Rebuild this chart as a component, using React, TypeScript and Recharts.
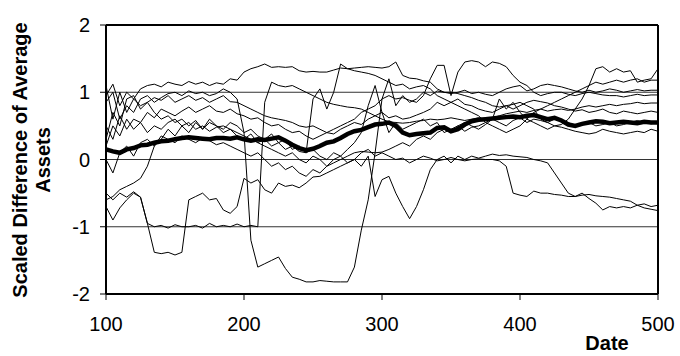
import { CartesianGrid, Label, Line, LineChart, ReferenceLine, XAxis, YAxis } from "recharts";

const FONT = "'Liberation Sans', Arial, sans-serif";

const dates = [
  100, 105, 110, 115, 120, 125, 130, 135, 140, 145,
  150, 155, 160, 165, 170, 175, 180, 185, 190, 195,
  200, 205, 210, 215, 220, 225, 230, 235, 240, 245,
  250, 255, 260, 265, 270, 275, 280, 285, 290, 295,
  300, 305, 310, 315, 320, 325, 330, 335, 340, 345,
  350, 355, 360, 365, 370, 375, 380, 385, 390, 395,
  400, 405, 410, 415, 420, 425, 430, 435, 440, 445,
  450, 455, 460, 465, 470, 475, 480, 485, 490, 495,
  500,
];

const xTicks = [100, 200, 300, 400, 500];
const yTicks = [-2, -1, 0, 1, 2];

// individual runs (thin lines)
const run1 = [
  0.95, 1.12, 0.8, 1.0, 0.9, 1.05, 1.1, 1.12, 1.08, 1.15,
  1.12, 1.1, 1.16, 1.12, 1.15, 1.1, 1.14, 1.12, 1.2, 1.18,
  1.3, 1.35, 1.38, 1.42, 1.37, 1.38, 1.37, 1.38, 1.32, 1.3,
  1.31, 1.3, 1.3, 1.33, 1.36, 1.35, 1.36, 1.37, 1.38, 1.37,
  1.36, 1.38, 1.45, 1.25, 1.21, 1.2, 1.17, 1.15, 1.05, 1.0,
  1.0, 0.98, 0.95, 0.92, 0.88, 0.85, 0.8, 0.78, 0.8, 0.75,
  0.8, 0.85, 0.88, 0.86, 0.84, 0.8, 0.78, 0.75, 0.72, 0.74,
  0.7, 0.72, 0.75, 0.7, 0.68, 0.72, 0.7, 0.68, 0.7, 0.72,
  0.7,
];
const run2 = [
  1.1, 0.6, 1.0, 0.7, 0.9, 0.8, 0.85, 0.92, 0.88, 0.95,
  0.85, 0.9, 0.95, 0.88, 0.92, 0.85, 0.9, 0.95, 0.86, 0.85,
  0.8, 0.75, 0.7, 0.65, 0.62, 0.6, 0.58, 0.55, 0.5, 0.48,
  0.5, 0.45, 0.4, 0.45, 0.5, 0.55, 0.6, 0.7, 0.75, 0.8,
  0.9, 0.95, 0.9, 0.92, 0.88, 0.85, 0.95, 1.2, 1.4, 1.4,
  0.95, 1.3, 1.45, 1.47, 1.45, 1.38, 1.45, 1.43, 1.38, 1.25,
  1.15, 1.1, 1.0, 0.95, 0.98, 1.0, 1.0, 0.97, 0.95, 0.98,
  1.0, 0.98, 0.96, 0.95, 0.95, 0.93, 0.95, 0.97, 0.95, 0.96,
  0.96,
];
const run3 = [
  0.5, 0.3, 0.65, 0.45, 0.6, 0.55, 0.7, 0.62, 0.75, 0.7,
  0.65, 0.72, 0.78, 0.7, 0.75, 0.8, 0.72, 0.7, 0.75, 0.68,
  0.65, 0.6, 0.62, 0.55, 0.5, 0.52, 0.45, 0.4, 0.42, 0.35,
  0.3, 0.35, 0.4, 0.38, 0.45, 0.5, 0.55, 0.52, 0.6, 0.65,
  0.7, 0.62, 0.65, 0.6, 0.62, 0.66, 0.7, 0.75, 0.85, 0.8,
  0.85, 0.9, 0.82, 0.8, 0.75, 0.72, 0.7, 0.75, 0.8, 0.82,
  0.85, 0.8, 0.75, 0.6, 0.55, 0.5, 0.52, 0.6, 0.75, 0.9,
  1.1, 1.35, 1.38, 1.3, 1.35, 1.3, 1.32, 1.15, 1.18, 1.2,
  1.35,
];
const run4 = [
  0.85, 1.0, 0.6, 0.8, 0.7, 0.9, 0.95, 0.85, 0.92, 0.98,
  1.0, 0.95, 1.02, 0.98, 1.0, 0.95, 0.98, 1.05, 1.0, 0.9,
  0.4, -1.2, -1.6, -1.55, -1.5, -1.45, -1.62, -1.75, -1.78, -1.82,
  -1.82, -1.8, -1.81, -1.82, -1.82, -1.82, -1.6, -1.05, -0.6, 0.1,
  0.9, 1.2, 0.8, 0.95, 0.85, 0.9, 1.0, 0.95, 1.02, 1.0,
  0.98, 1.0, 1.03, 0.98, 1.0, 0.97, 0.95, 1.0, 1.05, 1.08,
  1.1, 1.02, 1.05, 1.1, 1.12, 1.1, 1.08, 1.05, 1.02, 1.0,
  1.03, 1.0, 1.02, 1.05, 1.03, 1.0, 1.02, 1.04, 1.02, 1.03,
  1.03,
];
const run5 = [
  0.3, 0.7, 0.5, 0.9, 0.95, 0.75, 0.85, 0.7, 0.6, 0.65,
  0.55, 0.6, 0.5, 0.58, 0.45, 0.55, 0.5, 0.4, 0.45, 0.35,
  0.3, 0.38, 0.25, 0.3, 0.2, 0.25, 0.15, 0.2, 0.12, 0.1,
  0.9, 1.05, 0.75, 1.0, 1.42, 1.35, 1.32, 1.3, 1.28, 1.25,
  1.2, 1.15, 1.1, 1.12, 1.05, 1.08, 1.1, 1.05, 0.95, 0.9,
  0.85, 0.8, 0.75, 0.7, 0.65, 0.55, 0.5, 0.45, 0.4, 0.45,
  0.5, 0.6, 0.7, 0.75, 0.8, 0.85, 0.9, 0.95, 1.0, 1.05,
  1.1, 1.15, 1.12, 1.15, 1.18, 1.15, 1.18, 1.2, 1.15, 1.18,
  1.18,
];
const run6 = [
  0.2, 0.5, 0.35, 0.6, 0.45, 0.55, 0.4, 0.5, 0.45, 0.55,
  0.6, 0.5, 0.55, 0.45, 0.5, 0.42, 0.48, 0.5, 0.45, 0.4,
  0.35, 0.3, 0.25, 0.2, 0.15, 0.1, 0.05, 0.1, 0.0, -0.05,
  0.05, 0.0, -0.1, 0.0, 0.05, 0.15, 0.25, 0.4, 0.8, 1.1,
  0.7, 0.4, 0.55, 0.45, 0.5, 0.55, 0.6, 0.5, 0.55, 0.4,
  0.45, 0.5, 0.42, 0.48, 0.5, 0.55, 0.6, 0.9, 0.75, 0.85,
  0.7, 0.6, 0.55, 0.5, 0.45, 0.5, 0.48, 0.45, 0.42, 0.4,
  0.38, 0.4, 0.45, 0.42, 0.4, 0.38, 0.4, 0.42, 0.4, 0.45,
  0.42,
];
const run7 = [
  0.0, -0.2, 0.1, 0.2, 0.05, 0.25, 0.3, 0.2, 0.35, 0.3,
  0.25, 0.35, 0.3, 0.25, 0.32, 0.28, 0.22, 0.25, 0.2, 0.15,
  0.1, 0.05, 0.1, 0.0, -0.1, -0.05, -0.15, -0.1, -0.2, -0.25,
  -0.15, -0.2, -0.1, -0.05, 0.0, 0.05, 0.1, 0.12, 0.11, 0.1,
  0.11, 0.15, 0.2, 0.25, 0.2, 0.3, 0.35, 0.3, 0.4, 0.45,
  0.4, 0.5, 0.55, 0.5, 0.45, 0.52, 0.6, 0.55, 0.5, 0.58,
  0.62, 0.55, 0.6, 0.58, 0.55, 0.6, 0.58, 0.55, 0.5, 0.52,
  0.55, 0.5, 0.52, 0.55, 0.5, 0.52, 0.55, 0.58, 0.55, 0.53,
  0.55,
];
const run8 = [
  -0.6, -0.55, -0.45, -0.4, -0.35, -0.28, -0.1, 0.2, 0.3, 0.45,
  0.35, 0.5, 0.4, 0.55, 0.45, 0.6, 0.5, 0.45, 0.55, 0.5,
  0.4, 0.45, 0.35, 0.3, 0.38, 0.25, 0.3, 0.15, 0.2, 0.1,
  0.15, 0.05, 0.0, 0.1, 0.05, -0.05, 0.0, -0.1, 0.05, -0.55,
  -0.3, -0.25, -0.5, -0.7, -0.88, -0.7, -0.45, -0.15, 0.0, 0.05,
  -0.05, 0.05, 0.0, 0.05, 0.02, 0.05, 0.08, 0.06, 0.07, 0.05,
  0.04, 0.03, 0.0, -0.02, -0.05, -0.2, -0.35, -0.5, -0.55, -0.5,
  -0.58, -0.65, -0.75, -0.7, -0.72, -0.7, -0.72, -0.68, -0.66, -0.7,
  -0.68,
];
const run9 = [
  -0.7, -0.9, -0.72, -0.6, -0.5, -0.56, -0.95, -1.0, -0.98, -1.02,
  -0.97, -1.0, -1.0, -0.98, -1.02, -0.95, -1.0, -0.98, -1.0, -0.96,
  -1.0, -0.98, -1.0, 0.85, 1.15, 1.1, 1.08, 1.1, 1.05, 1.0,
  0.95, 0.9, 0.85, 0.82, 0.8, 0.78, 0.77, 0.75, 0.7, 0.65,
  0.6, 0.56, 0.55, 0.54, 0.55, 0.57, 0.58, 0.6, 0.59, 0.6,
  0.62, 0.6, 0.58, 0.6, 0.62, 0.6, 0.62, 0.65, 0.68, 0.7,
  0.72, 0.7, 0.73, 0.75, 0.72, 0.74, 0.75, 0.73, 0.75, 0.78,
  0.8, 0.78, 0.8, 0.82, 0.8, 0.82, 0.83, 0.85, 0.83, 0.84,
  0.84,
];
const run10 = [
  -0.5, -0.6, -0.5, -0.56, -0.48, -0.56, -0.95, -1.38, -1.4, -1.38,
  -1.42, -1.38, -0.6, -0.55, -0.5, -0.6, -0.58, -0.75, -0.8, -0.7,
  -0.28, -0.35, -0.3, -0.45, -0.5, -0.35, -0.4, -0.38, -0.42, -0.35,
  -0.26, -0.25, -0.2, -0.15, -0.1, -0.05, 0.0, 0.1, 0.15, 0.05,
  0.1, 0.05, 0.0, 0.02, -0.05, 0.0, 0.05, 0.02, -0.02, 0.0,
  0.03, 0.0, -0.02, 0.0, 0.01, 0.0, 0.0, -0.02, -0.1, -0.5,
  -0.53, -0.55, -0.47, -0.5, -0.5, -0.52, -0.53, -0.55, -0.55, -0.53,
  -0.52, -0.54, -0.55, -0.56, -0.58, -0.6, -0.62, -0.68, -0.72, -0.74,
  -0.76,
];

// average across runs (thick line)
const average = [
  0.15, 0.12, 0.1, 0.15, 0.17, 0.21, 0.22, 0.25, 0.27, 0.28,
  0.3, 0.32, 0.33, 0.32, 0.31, 0.3, 0.32, 0.32, 0.31, 0.33,
  0.3, 0.28, 0.3, 0.29, 0.31, 0.33, 0.28, 0.22, 0.17, 0.14,
  0.16, 0.2, 0.25, 0.27, 0.32, 0.38, 0.42, 0.44, 0.48, 0.52,
  0.53, 0.55, 0.5, 0.4, 0.36, 0.38, 0.39, 0.4, 0.47, 0.48,
  0.42, 0.45, 0.52, 0.57, 0.59, 0.6, 0.61, 0.62, 0.63, 0.64,
  0.63, 0.65, 0.66, 0.63, 0.6, 0.62, 0.58, 0.52, 0.5, 0.53,
  0.55, 0.57, 0.56, 0.54, 0.55, 0.56, 0.55, 0.54, 0.56, 0.55,
  0.55,
];

const runs = [run1, run2, run3, run4, run5, run6, run7, run8, run9, run10];

const rows = dates.map((date, i) => {
  const row: Record<string, number> = { date, avg: average[i] };
  runs.forEach((r, k) => {
    row[`r${k}`] = r[i];
  });
  return row;
});

const tickStyle = { fontSize: 20, fill: "#000", fontFamily: FONT };

const YTitle = () => (
  <text
    transform="rotate(-90)"
    textAnchor="middle"
    fontFamily={FONT}
    fontSize={20}
    fontWeight="bold"
    fill="#000"
  >
    <tspan x={-160} y={27}>Scaled Difference of Average</tspan>
    <tspan x={-160} y={50}>Assets</tspan>
  </text>
);

const XTitle = () => (
  <text x={607} y={350} textAnchor="middle" fontFamily={FONT} fontSize={20} fontWeight="bold" fill="#000">
    Date
  </text>
);

export default function App() {
  return (
    <div style={{ width: 680, height: 356 }}>
      <style>{"body{margin:0}"}</style>
      <LineChart width={680} height={356} data={rows} margin={{ top: 25, right: 22, left: 0, bottom: 0 }}>
        <CartesianGrid vertical={false} stroke="#333" strokeWidth={1} />
        <XAxis
          dataKey="date"
          type="number"
          domain={[100, 500]}
          ticks={xTicks}
          height={62}
          tick={tickStyle}
          tickSize={6}
          tickMargin={17}
          axisLine={{ stroke: "#000", strokeWidth: 2 }}
          tickLine={{ stroke: "#000" }}
        >
          <Label content={XTitle} />
        </XAxis>
        <YAxis
          type="number"
          domain={[-2, 2]}
          ticks={yTicks}
          width={106}
          tick={tickStyle}
          tickSize={6}
          tickMargin={10}
          axisLine={{ stroke: "#000", strokeWidth: 2 }}
          tickLine={{ stroke: "#000" }}
        >
          <Label content={YTitle} />
        </YAxis>
        <ReferenceLine y={2} stroke="#000" strokeWidth={2} />
        <ReferenceLine x={500} stroke="#000" strokeWidth={2} />
        {runs.map((_, k) => (
          <Line
            key={k}
            type="linear"
            dataKey={`r${k}`}
            stroke="#000"
            strokeWidth={1}
            dot={false}
            isAnimationActive={false}
          />
        ))}
        <Line
          type="linear"
          dataKey="avg"
          stroke="#000"
          strokeWidth={4.5}
          dot={false}
          isAnimationActive={false}
        />
      </LineChart>
    </div>
  );
}
